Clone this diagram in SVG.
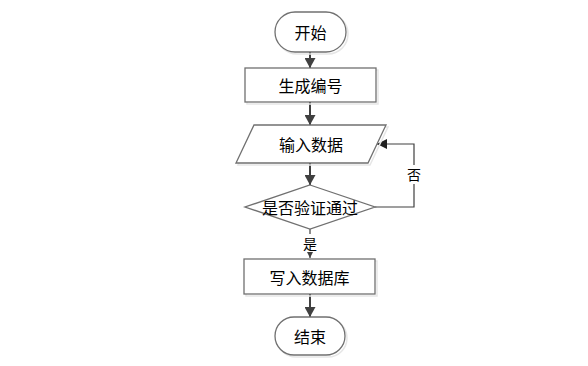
<svg xmlns="http://www.w3.org/2000/svg" width="588" height="366" viewBox="0 0 588 366">
<defs>
<marker id="arr" markerWidth="10" markerHeight="11" refX="10" refY="5.5" orient="auto" markerUnits="userSpaceOnUse" viewBox="0 0 10 11">
<path d="M0,0 L10,5.5 L0,11 Z" fill="#404040"/>
</marker>
<marker id="arrS" markerWidth="6" markerHeight="6" refX="6" refY="3" orient="auto" markerUnits="userSpaceOnUse" viewBox="0 0 6 6">
<path d="M0,0 L6,3 L0,6 Z" fill="#404040"/>
</marker>
<marker id="arrL" markerWidth="10" markerHeight="10" refX="10" refY="5" orient="auto" markerUnits="userSpaceOnUse" viewBox="0 0 10 10">
<path d="M0,0 L10,5 L0,10 Z" fill="#202020"/>
</marker>
</defs>
<style>
.shape{fill:#ffffff;stroke:#707070;stroke-width:1.3}
.shadow{fill:none;stroke:#e6e6e6;stroke-width:1.5}
.t{font-family:"Noto Sans CJK SC","Liberation Sans",sans-serif;font-size:16px;fill:#000;text-anchor:middle;dominant-baseline:central}
.conn{stroke:#404040;stroke-width:2;fill:none}
.thin{stroke:#404040;stroke-width:1.2;fill:none}
</style>
<rect width="588" height="366" fill="#ffffff"/>
<g id="connectors">
<line class="conn" x1="310" y1="52" x2="310" y2="68" marker-end="url(#arr)"/>
<line class="conn" x1="310" y1="102" x2="310" y2="125" marker-end="url(#arr)"/>
<line class="conn" x1="310" y1="163" x2="310" y2="185" marker-end="url(#arr)"/>
<line class="thin" x1="310" y1="229" x2="310" y2="234"/>
<line class="thin" x1="310" y1="252" x2="310" y2="258" marker-end="url(#arrS)"/>
<line class="conn" x1="310" y1="294" x2="310" y2="317" marker-end="url(#arr)"/>
<polyline class="thin" points="375,207 414,207 414,184"/>
<polyline class="thin" points="414,165 414,144 377,144" marker-end="url(#arrL)"/>
<text class="t" x="310" y="243" style="font-size:14px">是</text>
<text class="t" x="414" y="174" style="font-size:14px">否</text>
</g>
<g id="start">
<rect class="shadow" x="277" y="14" width="71" height="40" rx="20"/>
<rect class="shape" x="275" y="12" width="71" height="40" rx="20"/>
<text class="t" x="310.5" y="32">开始</text>
</g>
<g id="gen">
<rect class="shadow" x="247" y="70" width="131" height="34"/>
<rect class="shape" x="245" y="68" width="131" height="34"/>
<text class="t" x="310.5" y="85">生成编号</text>
</g>
<g id="input">
<polygon class="shadow" points="256,127 388,127 370,165 238,165"/>
<polygon class="shape" points="254,125 386,125 368,163 236,163"/>
<text class="t" x="311" y="144">输入数据</text>
</g>
<g id="check">
<polygon class="shape" points="310,185 375,207 310,229 245,207"/>
<text class="t" x="310" y="207">是否验证通过</text>
</g>
<g id="write">
<rect class="shadow" x="246" y="261" width="131" height="35"/>
<rect class="shape" x="244" y="259" width="131" height="35"/>
<text class="t" x="309.5" y="276.5">写入数据库</text>
</g>
<g id="end">
<rect class="shadow" x="277" y="319" width="70" height="38" rx="19"/>
<rect class="shape" x="275" y="317" width="70" height="38" rx="19"/>
<text class="t" x="310" y="336">结束</text>
</g>
</svg>
